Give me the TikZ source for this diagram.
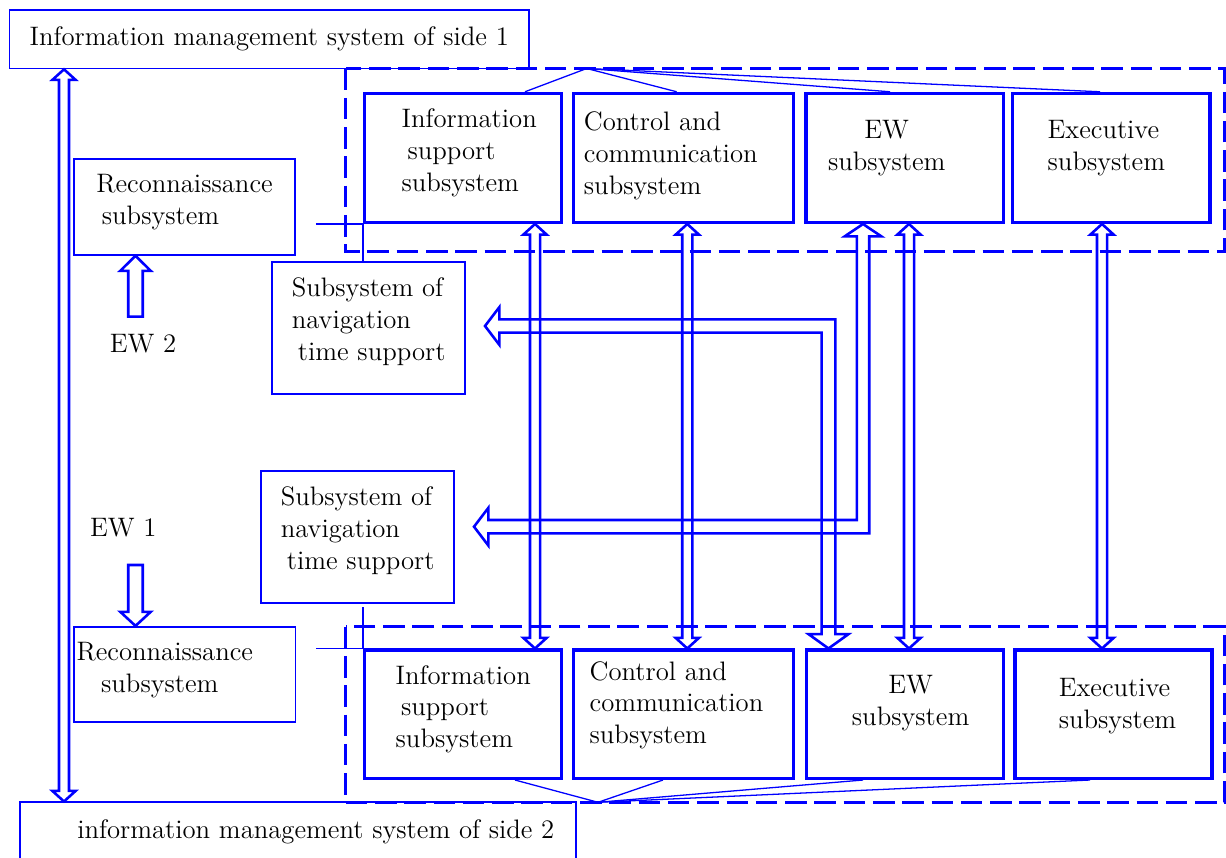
\documentclass[tikz,border=0pt]{standalone}
\usepackage{fontspec}
\usetikzlibrary{calc}

\newcommand{\pxl}{0.015cm}
\newcommand{\boxfont}{\fontsize{11.4}{13.6}\selectfont}
\newcommand{\tgap}[1]{\makebox[#1]{}}

\tikzset{
  boxsize/.style 2 args={minimum width=#1*\pxl, minimum height=#2*\pxl},
  sidebox/.style={draw=blue, line width=0.7pt, inner sep=1pt, font=\boxfont},
  box/.style={sidebox, align=left, text depth=8pt},
  subbox/.style={box, line width=1.3pt},
  txt/.style={inner sep=0pt, font=\boxfont},
  thin/.style={draw=blue, line width=0.55pt},
  frame/.style={draw=blue, line width=1.2pt, dash pattern=on 9.2pt off 3.3pt},
  hollow/.style={draw=blue, line width=1.1pt, line join=miter},
}

\begin{document}
\begin{tikzpicture}[x=0.015cm, y=-0.015cm]
	\useasboundingbox (0,0) rectangle (1226,858);

	% both sides
	\node[sidebox, boxsize={519.5}{58.5}] (sideA) at (269.25,39.25) {Information management system of side 1};
	\node[sidebox, boxsize={555.9}{60}] (sideB) at (297.75,832.3) {\hspace*{15.4pt}information management system of side 2};

	\draw[frame] (345.6,68.5) rectangle (1224.7,251.7);
	\draw[frame] (345.6,626.7) rectangle (1224.7,802.3);

	% subsystems of side 1
	\node[subbox, boxsize={197.3}{129.2}, text depth=6.8pt] (isA) at (463.25,157.9) {\hspace*{5.1pt}Information\\\hspace*{7.6pt}support\\\hspace*{5.1pt}subsystem};
	\node[subbox, boxsize={219.9}{129.2}, text depth=3.9pt] (ccA) at (683.65,157.9) {Control and\\communication\tgap{11pt}\\subsystem};
	\node[subbox, boxsize={197.6}{129.2}, align=center, text depth=10.6pt] (ewA) at (904.8,157.9) {EW\hspace*{15.4pt}\\subsystem\hspace*{15.4pt}};
	\node[subbox, boxsize={197.2}{129.2}, text depth=10.6pt] (exA) at (1111.4,157.9) {Executive\\subsystem\tgap{4.3pt}};

	% subsystems of side 2
	\node[subbox, boxsize={197.3}{128.5}, text depth=6.6pt] (isB) at (463.25,714.25) {Information\\\hspace*{2.3pt}support\\subsystem};
	\node[subbox, boxsize={220}{128.5}, text depth=10pt] (ccB) at (683.5,714.25) {Control and\\communication\tgap{6pt}\\subsystem};
	\node[subbox, boxsize={197.2}{128.5}, align=center, text depth=12pt] (ewB) at (905,714.25) {\hspace*{4.8pt}EW\\\hspace*{4.8pt}subsystem};
	\node[subbox, boxsize={197}{128.5}, text depth=9.2pt] (exB) at (1113.5,714.25) {\hspace*{3.4pt}Executive\\\hspace*{3.4pt}subsystem};

	\node[box, boxsize={221}{96}, text depth=6.5pt] (recA) at (184.5,207) {Reconnaissance\\\hspace*{2.4pt}subsystem};
	\node[box, boxsize={221.4}{95}, text depth=6pt] (recB) at (184.7,674.2) {Reconnaissance\tgap{17pt}\\\hspace*{10.5pt}subsystem};
	\node[box, boxsize={193.3}{132.3}] (navA) at (368.65,328.15) {Subsystem of\\navigation\\\hspace*{2.6pt}time support};
	\node[box, boxsize={193.3}{132.3}] (navB) at (357.65,537.15) {Subsystem of\\navigation\\\hspace*{2.6pt}time support};

	\node[txt] (ewTwo) at (143,343.6) {EW 2};
	\node[txt] (ewOne) at (123.3,527.7) {EW 1};

	% thin links
	\coordinate (fanA) at (586.7,68.5);
	\coordinate (fanB) at (598,802.3);
	\foreach \nd/\dx in {isA/61.75, ccA/-7, ewA/-14.8, exA/-11.4}
		\draw[thin] (fanA) -- ($(\nd.north)+(\dx,0)$);
	\foreach \nd/\dx in {isB/51.75, ccB/-20.5, ewB/-42, exB/-23.5}
		\draw[thin] (fanB) -- ($(\nd.south)+(\dx,0)$);

	\draw[thin] ($(recA.east |- isA.south west)+(20,0)$) -- (isA.south west);
	\draw[thin] (isA.south west) -- (isA.south west |- navA.north);
	\draw[thin] ($(isB.north west |- navB.south)+(0,3)$) -- (isB.north west);
	\draw[thin] ($(recB.east |- isB.north west)+(20,0)$) -- (isB.north west);

	% two-way hollow arrows
	\foreach \ax/\ta/\tb in {64/sideA/sideB, 535/isA/isB, 687.3/ccA/ccB, 909/ewA/ewB, 1102/exA/exB}
		\draw[hollow] let \p0=(\ax,0), \p1=(\ta.south), \p2=(\tb.north) in
			(\x0,\y1) -- (\x0+4.95pt,\y1-4.5pt) -- (\x0+2.15pt,\y1-4.5pt) -- (\x0+2.15pt,\y2+4.5pt)
			-- (\x0+4.95pt,\y2+4.5pt) -- (\x0,\y2) -- (\x0-4.95pt,\y2+4.5pt) -- (\x0-2.15pt,\y2+4.5pt)
			-- (\x0-2.15pt,\y1-4.5pt) -- (\x0-4.95pt,\y1-4.5pt) -- cycle;

	% EW 2 and EW 1
	\coordinate (ewUp) at (135.5,316.7);
	\coordinate (ewDown) at (135.5,565);
	\draw[hollow] let \p1=(ewUp), \p2=(recA.south) in
		(\x1-3.1pt,\y1) -- (\x1-3.1pt,\y2-6.4pt) -- (\x1-6.5pt,\y2-6.4pt) -- (\x1,\y2)
		-- (\x1+6.5pt,\y2-6.4pt) -- (\x1+3.1pt,\y2-6.4pt) -- (\x1+3.1pt,\y1) -- cycle;
	\draw[hollow] let \p1=(ewDown), \p2=(recB.north) in
		(\x1-3.1pt,\y1) -- (\x1-3.1pt,\y2+6pt) -- (\x1-6.5pt,\y2+6pt) -- (\x1,\y2)
		-- (\x1+6.5pt,\y2+6pt) -- (\x1+3.1pt,\y2+6pt) -- (\x1+3.1pt,\y1) -- cycle;

	% navigation time support <-> EW subsystems
	\coordinate (tipB) at (485,326);
	\draw[hollow] let \p1=(tipB), \p0=(828.5,0), \p2=(ewB.north) in
		(\p1) -- (\x1+6.1pt,\y1+8pt) -- (\x1+6.1pt,\y1+2.8pt) -- (\x0+2.95pt,\y1+2.8pt)
		-- (\x0+2.95pt,\y2+6.1pt) -- (\x0+8.5pt,\y2+6.1pt) -- (\x0,\y2) -- (\x0-8.5pt,\y2+6.1pt)
		-- (\x0-2.95pt,\y2+6.1pt) -- (\x0-2.95pt,\y1-2.8pt) -- (\x1+6.1pt,\y1-2.8pt)
		-- (\x1+6.1pt,\y1-8pt) -- cycle;
	\coordinate (tipA) at (474,526.7);
	\draw[hollow] let \p1=(tipA), \p0=(863,0), \p2=(ewA.south) in
		(\p1) -- (\x1+6.1pt,\y1+8pt) -- (\x1+6.1pt,\y1+2.85pt) -- (\x0-2.65pt,\y1+2.85pt)
		-- (\x0-2.65pt,\y2-5.25pt) -- (\x0-7.8pt,\y2-5.25pt) -- (\x0,\y2) -- (\x0+7.8pt,\y2-5.25pt)
		-- (\x0+2.65pt,\y2-5.25pt) -- (\x0+2.65pt,\y1-2.85pt) -- (\x1+6.1pt,\y1-2.85pt)
		-- (\x1+6.1pt,\y1-8pt) -- cycle;
\end{tikzpicture}
\end{document}
